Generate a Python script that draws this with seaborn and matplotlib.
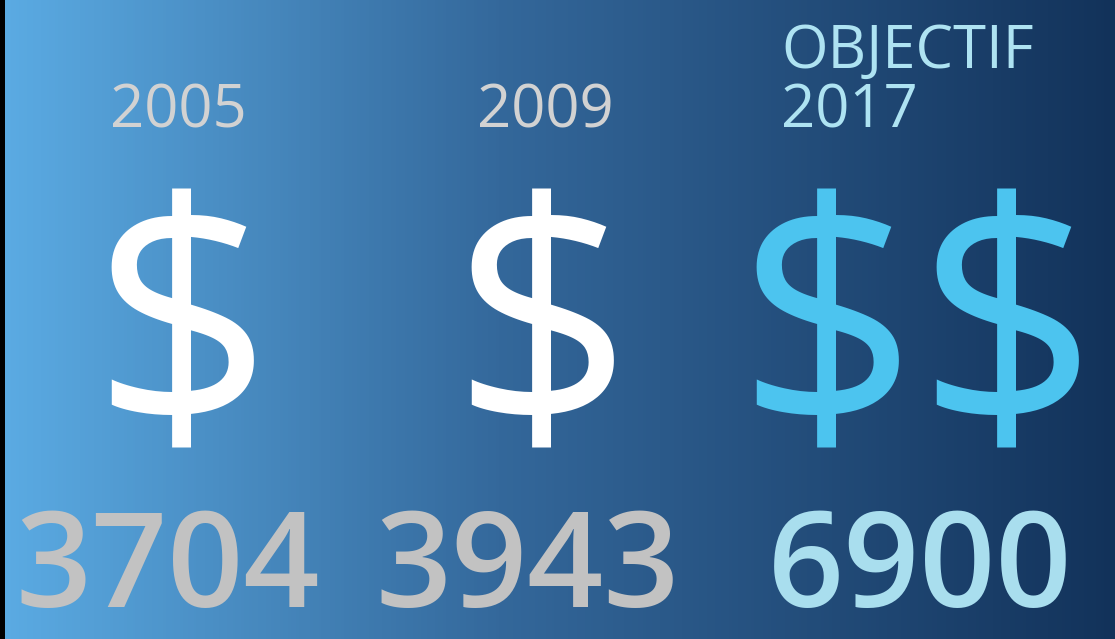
import numpy as np
import matplotlib
matplotlib.use("Agg")
import matplotlib.pyplot as plt
from matplotlib.colors import LinearSegmentedColormap
import seaborn as sns

# ---- data ----
years = ["2005", "2009", "2017"]
year_prefix = ["", "", "OBJECTIF"]
values = [3704, 3943, 6900]
dollar_count = [1, 1, 2]
is_target = [False, False, True]

sns.set_theme(style="white")
plt.rcParams["font.family"] = ["Open Sans", "DejaVu Sans"]
plt.rcParams["text.parse_math"] = False

W, H = 1115, 639
fig = plt.figure(figsize=(W / 100, H / 100), dpi=100)
fig.patch.set_facecolor("black")

# background gradient drawn with seaborn heatmap
bg = fig.add_axes([5 / W, 0, 1 - 5 / W, 1])
grad = np.linspace(0, 1, 400)[None, :]
cmap = LinearSegmentedColormap.from_list(
    "bg", [(0.0, "#5AAAE2"), (0.45, "#33679A"), (1.0, "#12325A")])
sns.heatmap(grad, ax=bg, cmap=cmap, cbar=False, xticklabels=False,
            yticklabels=False, rasterized=True)
bg.set_axis_off()

# overlay for text, pixel coordinates
ax = fig.add_axes([0, 0, 1, 1])
ax.set_xlim(0, W)
ax.set_ylim(H, 0)
ax.set_axis_off()
ax.patch.set_alpha(0)

gray_year = "#D2D2D2"
cyan_year = "#AEE3F2"
gray_num = "#C2C2C2"
cyan_num = "#A9DEEE"
cyan_dollar = "#4CC4EF"

year_x = [178, 545, 781]
dollar_x = [182, 542, 917]
for i, (yr, pre, n, tgt) in enumerate(zip(years, year_prefix,
                                          dollar_count, is_target)):
    if not tgt:
        ax.text(year_x[i], 128, yr, ha="center", va="baseline",
                fontsize=43, color=gray_year, parse_math=False)
    else:
        ax.text(year_x[i], 68, pre, ha="left", va="baseline",
                fontsize=43, color=cyan_year, parse_math=False)
        ax.text(year_x[i], 128, yr, ha="left", va="baseline",
                fontsize=43, color=cyan_year, parse_math=False)
    ax.text(dollar_x[i], 429, "$" * n, ha="center", va="baseline",
            fontsize=228, color=cyan_dollar if tgt else "white",
            parse_math=False)

num_x = [168, 528, 920]
for i, val in enumerate(values):
    ax.text(num_x[i], 607, str(val), ha="center", va="baseline",
            fontsize=96, fontweight="semibold",
            color=cyan_num if is_target[i] else gray_num, parse_math=False)

fig.savefig("out.png", dpi=100, facecolor=fig.get_facecolor())
